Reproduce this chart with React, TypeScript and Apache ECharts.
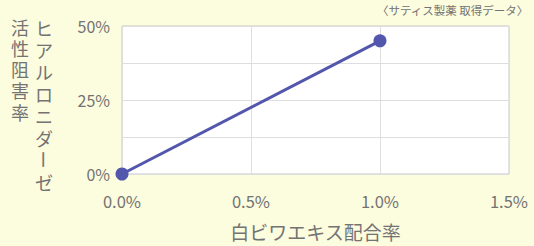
import React, { useEffect, useRef } from "react";
import * as echarts from "echarts";

const xValues = [0, 1.0];
const yValues = [0, 45];
const xTicks = [0, 0.5, 1.0, 1.5];
const yTitleCol1 = "ヒアルロニダーゼ";
const yTitleCol2 = "活性阻害率";
const xTitle = "白ビワエキス配合率";
const note = "〈サティス製薬 取得データ〉";

export default function App() {
  const ref = useRef<HTMLDivElement>(null);
  useEffect(() => {
    document.body.style.margin = "0";
    const chart = echarts.init(ref.current!, null, { renderer: "svg" });
    const font = "'Noto Sans CJK JP', 'Noto Sans', sans-serif";
    const textColor = "#737373";
    const baseStyle = {
      fontSize: 18,
      fontFamily: font,
      fill: textColor,
      align: "center",
      verticalAlign: "top",
    };
    const c1 = Array.from(yTitleCol1);
    const dashIdx = c1.indexOf("ー");
    const step1 = 22;
    const top1 = 16.5;
    const col1 = [
      {
        type: "text",
        x: 44,
        y: top1,
        style: { ...baseStyle, text: c1.slice(0, dashIdx).join("\n"), lineHeight: step1 },
      },
      {
        type: "text",
        x: 44,
        y: top1 + dashIdx * step1 + step1 / 2,
        rotation: -Math.PI / 2,
        style: { ...baseStyle, text: c1[dashIdx], verticalAlign: "middle", lineHeight: 18 },
      },
      {
        type: "text",
        x: 44,
        y: top1 + (dashIdx + 1) * step1,
        style: { ...baseStyle, text: c1.slice(dashIdx + 1).join("\n"), lineHeight: step1 },
      },
    ];
    const col2 = {
      type: "text",
      x: 20,
      y: 16,
      style: { ...baseStyle, text: Array.from(yTitleCol2).join("\n"), lineHeight: 21.25 },
    };
    chart.setOption({
      animation: false,
      backgroundColor: "#fcfcde",
      grid: {
        left: 122,
        right: 25,
        top: 26,
        bottom: 68,
        show: true,
        backgroundColor: "#ffffff",
        borderColor: "#c8c8c8",
        borderWidth: 1,
      },
      xAxis: {
        type: "value",
        min: 0,
        max: 1.5,
        interval: 0.5,
        axisLine: { show: false },
        axisTick: { show: false },
        splitLine: { show: true, lineStyle: { color: "#dedede" } },
        axisLabel: {
          margin: 19,
          fontSize: 16.5,
          fontFamily: font,
          color: textColor,
          formatter: (v: number) => (xTicks.includes(v) ? v.toFixed(1) + "%" : ""),
        },
        name: xTitle,
        nameLocation: "middle",
        nameGap: 48,
        nameTextStyle: { fontSize: 19, fontFamily: font, color: textColor },
      },
      yAxis: {
        type: "value",
        min: 0,
        max: 50,
        interval: 12.5,
        axisLine: { show: false },
        axisTick: { show: false },
        splitLine: { show: true, lineStyle: { color: "#dedede" } },
        axisLabel: {
          margin: 12,
          fontSize: 16,
          fontFamily: font,
          color: textColor,
          formatter: (v: number) => (v % 25 === 0 ? v + "%" : ""),
        },
      },
      graphic: [
        ...col1,
        col2,
        {
          type: "text",
          right: 5,
          top: 4,
          style: {
            text: note,
            fontSize: 11.5,
            fontFamily: font,
            fill: textColor,
          },
        },
      ],
      series: [
        {
          type: "line",
          data: xValues.map((x, i) => [x, yValues[i]]),
          lineStyle: { color: "#5256ad", width: 3 },
          itemStyle: { color: "#5256ad" },
          symbol: "circle",
          symbolSize: 13,
        },
      ],
    });
    return () => chart.dispose();
  }, []);
  return <div ref={ref} style={{ position: "absolute", left: 0, top: 0, width: 534, height: 246 }} />;
}
